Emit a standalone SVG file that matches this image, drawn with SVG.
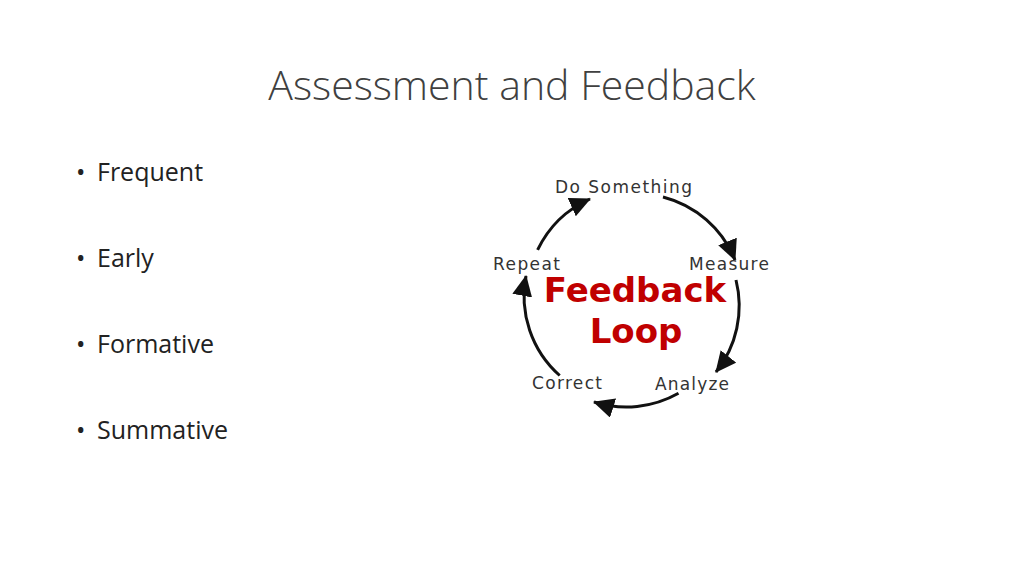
<svg xmlns="http://www.w3.org/2000/svg" width="1024" height="576" viewBox="0 0 1024 576">
<style>
.t{font-family:"Open Sans","Liberation Sans",sans-serif;fill:#404040}
.b{font-family:"Open Sans","Liberation Sans",sans-serif;font-size:25px;fill:#222}
.l{font-family:"DejaVu Sans",sans-serif;font-size:17px;fill:#333;letter-spacing:1px}
.f{font-family:"DejaVu Sans",sans-serif;font-size:34px;font-weight:bold;fill:#c00000;text-anchor:middle}
.a{fill:none;stroke:#111;stroke-width:3}
</style>
<defs><marker id="ah" markerUnits="userSpaceOnUse" markerWidth="24" markerHeight="22" refX="20" refY="10" orient="auto"><path d="M0,0 L21,10 L0,20 Z" fill="#111"/></marker></defs>
<rect width="1024" height="576" fill="#fff"/>
<text class="t" x="512" y="100" font-size="41" font-weight="300" text-anchor="middle">Assessment and Feedback</text>
<g id="bullets" class="b">
<text x="76" y="181">•</text><text x="97" y="181">Frequent</text>
<text x="76" y="267">•</text><text x="97" y="267">Early</text>
<text x="76" y="353">•</text><text x="97" y="353">Formative</text>
<text x="76" y="439">•</text><text x="97" y="439">Summative</text>
</g>
<g id="connectors">
<path class="a" marker-end="url(#ah)" d="M663,197 A106,106 0 0 1 735,260"/>
<path class="a" marker-end="url(#ah)" d="M736,280 A106,106 0 0 1 716,372"/>
<path class="a" marker-end="url(#ah)" d="M678.5,393.3 A106,106 0 0 1 594,402"/>
<path class="a" marker-end="url(#ah)" d="M559.7,375.5 A106,106 0 0 1 526,276"/>
<path class="a" marker-end="url(#ah)" d="M537.6,249.9 A106,106 0 0 1 590,199"/>
</g>
<g id="n-do"><text class="l" x="555" y="193" textLength="138">Do Something</text></g>
<g id="n-measure"><text class="l" x="689" y="270" textLength="81">Measure</text></g>
<g id="n-analyze"><text class="l" x="655" y="390" textLength="75">Analyze</text></g>
<g id="n-correct"><text class="l" x="532" y="389" textLength="71">Correct</text></g>
<g id="n-repeat"><text class="l" x="493" y="270" textLength="68">Repeat</text></g>
<g id="n-center"><text class="f" x="635" y="302">Feedback</text><text class="f" x="636" y="343">Loop</text></g>
</svg>
